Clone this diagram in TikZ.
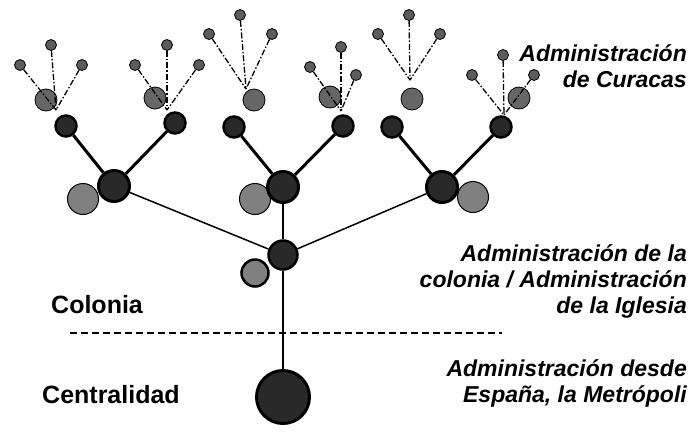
\documentclass[tikz,border=0pt]{standalone}
\usepackage{fontspec}
\setmainfont{Liberation Sans}
\usetikzlibrary{positioning}

\definecolor{hubdark}{gray}{0.16}
\definecolor{sidegray}{gray}{0.5}
\definecolor{midgray}{gray}{0.4}
\definecolor{leafgray}{gray}{0.36}

\begin{document}
\begin{tikzpicture}[
  x=1pt, y=-1pt,
  hub/.style={circle, draw=black, line width=3pt, fill=hubdark,
    minimum size=#1, inner sep=0pt},
  side/.style={circle, draw=black, line width=1pt, fill=sidegray,
    minimum size=#1, inner sep=0pt},
  subhub/.style={circle, draw=black, line width=2.5pt, fill=hubdark,
    minimum size=21, inner sep=0pt},
  midnode/.style={circle, draw=black, line width=0.8pt, fill=midgray,
    minimum size=22, inner sep=0pt},
  leaf/.style={circle, draw=black, line width=0.8pt, fill=leafgray,
    minimum size=11, inner sep=0pt},
  branch/.style={line width=3pt},
  trunk/.style={line width=1.5pt},
  twig/.style={line width=1.3pt, dash pattern=on 6pt off 2pt on 1.5pt off 2pt},
  note/.style={font=\fontsize{23}{26}\selectfont\bfseries\itshape, align=right, inner sep=0pt},
  level/.style={font=\fontsize{25}{26}\selectfont\bfseries, inner sep=0pt}
]
  \useasboundingbox (0,0) rectangle (700,440);

  % gray companions behind the hubs
  \node[side=31] (sA) at (83,199) {};
  \node[side=31] (sB) at (255,199) {};
  \node[side=31] (sC) at (473,197) {};
  \node[side=27, line width=2.5pt] (sCol) at (255,273) {};

  % main hubs
  \node[hub=31] (hA) at (114,186) {};
  \node[hub=31] (hB) at (283,187) {};
  \node[hub=31] (hC) at (442,187) {};
  \node[hub=29, line width=2.5pt] (col) at (283,255) {};
  \node[hub=53] (metro) at (283,397) {};

  % curaca level
  \node[subhub] (A1) at (66,126) {};
  \node[subhub] (A2) at (175,123) {};
  \node[subhub] (B1) at (234,127) {};
  \node[subhub] (B2) at (343,126) {};
  \node[subhub] (C1) at (392,127) {};
  \node[subhub] (C2) at (501,127) {};

  \node[midnode] (gA1) at (46,100) {};
  \node[midnode] (gA2) at (155,98) {};
  \node[midnode] (gB1) at (254,100) {};
  \node[midnode] (gB2) at (330,97) {};
  \node[midnode] (gC1) at (412,99) {};
  \node[midnode] (gC2) at (519,98) {};

  % leaves and their meeting points
  \node[leaf] (A1a) at (20,65) {};
  \node[leaf] (A1b) at (51,45) {};
  \node[leaf] (A1c) at (82,65) {};
  \coordinate (jA1) at (56,110);
  \node[leaf] (A2a) at (135,65) {};
  \node[leaf] (A2b) at (167,45) {};
  \node[leaf] (A2c) at (199,65) {};
  \coordinate (jA2) at (167,110);
  \node[leaf] (B1a) at (209,34) {};
  \node[leaf] (B1b) at (240,15) {};
  \node[leaf] (B1c) at (272,34) {};
  \coordinate (jB1) at (246,89);
  \node[leaf] (B2a) at (310,67) {};
  \node[leaf] (B2b) at (341,47) {};
  \node[leaf] (B2c) at (356,75) {};
  \coordinate (jB2) at (341,111);
  \node[leaf] (C1a) at (378,34) {};
  \node[leaf] (C1b) at (409,15) {};
  \node[leaf] (C1c) at (440,34) {};
  \coordinate (jC1) at (410,80);
  \node[leaf] (C2a) at (472,75) {};
  \node[leaf] (C2b) at (503,55) {};
  \node[leaf] (C2c) at (534,75) {};
  \coordinate (jC2) at (504,115);

  \foreach \g in {A1,A2,B1,B2,C1,C2}
    \foreach \t in {a,b,c}
      \draw[twig] (\g\t) -- (j\g);

  % connectors
  \draw[branch] (hA) -- (A1);
  \draw[branch] (hA) -- (A2);
  \draw[branch] (hB) -- (B1);
  \draw[branch] (hB) -- (B2);
  \draw[branch] (hC) -- (C1);
  \draw[branch] (hC) -- (C2);
  \draw[trunk] (hA) -- (col);
  \draw[trunk] (hC) -- (col);
  \draw[trunk] (hB) -- (col);
  \draw[trunk] (col) -- (metro);

  % border between colony and metropolis
  \coordinate (bl) at (70,333);
  \coordinate (br) at (502,333);
  \draw[line width=1.5pt, dash pattern=on 7pt off 4pt] (bl) -- (br);

  % labels
  \node[note, anchor=north east] (tCur) at (687,44) {Administración\\de Curacas};
  \node[note, anchor=north east] (tCol) at (687,244) {Administración de la\\colonia / Administración\\de la Iglesia};
  \node[note, anchor=north east] (tMet) at (687,359) {Administración desde\\España, la Metrópoli};
  \node[level, anchor=base west] (lCol) at (51,313) {Colonia};
  \node[level, anchor=base west] (lCen) at (42,403) {Centralidad};
\end{tikzpicture}
\end{document}
